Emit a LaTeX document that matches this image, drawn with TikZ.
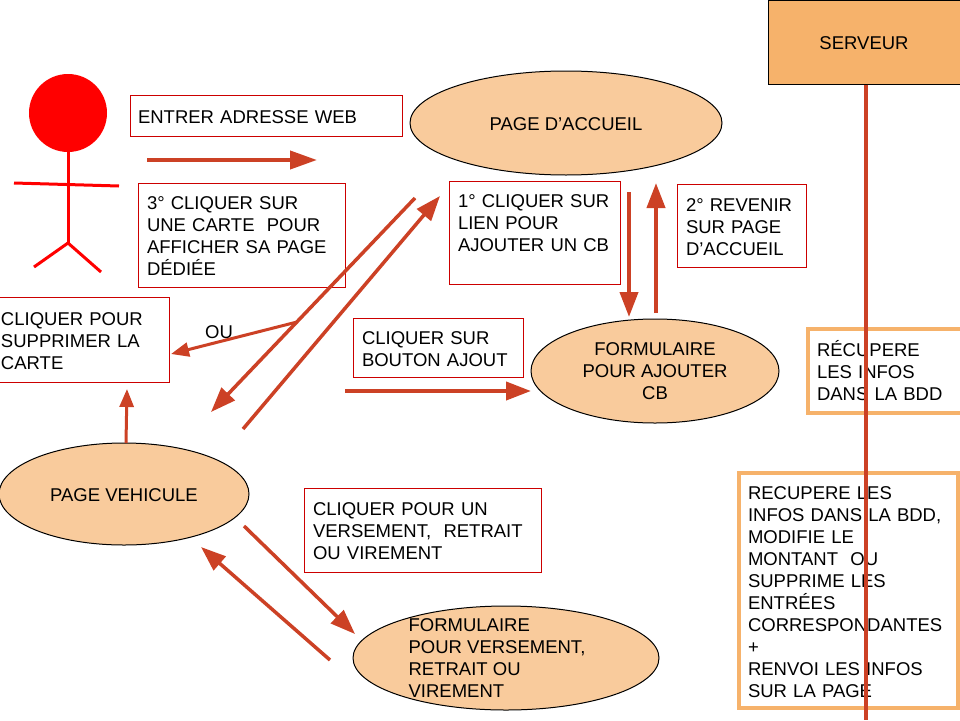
\documentclass[tikz,border=0pt]{standalone}
\usepackage{fontspec}
\setmainfont{Liberation Sans}
\usepackage{xcolor}
\usetikzlibrary{arrows.meta,shapes.geometric}
\definecolor{flechecol}{HTML}{CC4125}
\definecolor{pechecol}{HTML}{F9CB9C}
\definecolor{orangecol}{HTML}{F6B26B}
\definecolor{boxcol}{HTML}{CC0000}

\begin{document}
\begin{tikzpicture}[
  x=1pt, y=-1pt,
  txt/.style={font=\fontsize{18.5}{22}\selectfont, align=left, execute at begin node={\rule{0pt}{15.2pt}}},
  redbox/.style={txt, draw=boxcol, line width=1pt, fill=white, inner xsep=9pt, inner ysep=0pt},
  infobox/.style={txt, draw=orangecol, line width=4pt, fill=white, inner xsep=9pt, inner ysep=0pt},
  pagenode/.style={txt, ellipse, draw=black, line width=1pt, fill=pechecol, inner sep=0pt, align=center},
  fleche/.style={draw=flechecol, line width=3.5pt, -{Triangle[length=25pt,width=18pt]}},
  petitefleche/.style={draw=flechecol, line width=3pt, -{Triangle[length=18pt,width=14pt]}},
  servline/.style={draw=flechecol, line width=4pt},
  body/.style={draw=red, line width=3pt}
]
\useasboundingbox (0,0) rectangle (960,720);

\node[txt, draw=black, line width=1pt, fill=orangecol, minimum width=192pt, minimum height=84pt, align=center] (serveur) at (864,42) {SERVEUR};

\node[pagenode, minimum width=312pt, minimum height=104pt] (accueil) at (566,123) {PAGE D’ACCUEIL};
\node[pagenode, minimum width=248pt, minimum height=104pt] (formcb) at (655,371) {FORMULAIRE\\POUR AJOUTER\\CB};
\node[pagenode, minimum width=250pt, minimum height=102pt] (vehicule) at (124,494) {PAGE VEHICULE};
\node[pagenode, minimum width=306pt, minimum height=104pt,
  label={[txt, xshift=-9pt]center:FORMULAIRE\\POUR VERSEMENT,\\RETRAIT OU\\VIREMENT}] (formvers) at (506,658) {};

\node[redbox, inner xsep=8pt, text width=256pt, minimum height=41pt] (adresse) at (266,115.5) {ENTRER ADRESSE WEB};
\node[redbox, text width=189pt, minimum height=104pt] (carte) at (241.5,235) {3° CLIQUER SUR\\UNE CARTE\ \ POUR\\AFFICHER SA PAGE\\DÉDIÉE};
\node[redbox, inner xsep=3pt, text width=165pt, minimum height=85pt] (supprimer) at (83.5,339.5) {CLIQUER POUR\\SUPPRIMER LA\\CARTE};
\node[redbox, text width=152pt, minimum height=59pt] (bouton) at (438,347.5) {CLIQUER SUR\\BOUTON AJOUT};
\node[redbox, text width=153pt, minimum height=103pt] (lien) at (534.5,232.5) {1° CLIQUER SUR\\LIEN POUR\\AJOUTER UN CB\\[-8pt]\strut};
\node[redbox, text width=111pt, minimum height=83pt] (revenir) at (741.5,225.5) {2° REVENIR\\SUR PAGE\\D’ACCUEIL};
\node[redbox, text width=219pt, minimum height=84pt] (versement) at (422.5,530) {CLIQUER POUR UN\\VERSEMENT,\ \ RETRAIT\\OU VIREMENT};

\node[infobox, text width=144pt, minimum height=84pt] (recup) at (889,371) {RÉCUPERE\\LES INFOS\\DANS LA BDD};
\node[infobox, text width=201pt, minimum height=235pt] (modifie) at (848.5,590.5) {RECUPERE LES\\INFOS DANS LA BDD,\\MODIFIE LE\\MONTANT\ \ OU\\SUPPRIME LES\\ENTRÉES\\CORRESPONDANTES\\+\\RENVOI LES INFOS\\SUR LA PAGE};

\node[txt] (ou) at (219,331) {OU};

\node[circle, fill=red, minimum size=78pt, inner sep=0pt] (tete) at (68,113) {};
\coordinate (bassin) at (68,243);
\coordinate (mainG) at (14,183);
\coordinate (mainD) at (119,186);
\coordinate (piedG) at (34,267);
\coordinate (piedD) at (101,272);
\draw[body] (tete.south) -- (bassin);
\draw[body] (mainG) -- (mainD);
\draw[body] (bassin) -- (piedG);
\draw[body] (bassin) -- (piedD);

\coordinate (finserv) at (866,720);
\coordinate (a1) at (147,160);
\coordinate (a2) at (317,160);
\coordinate (b1) at (415,198);
\coordinate (b2) at (211,412);
\coordinate (c1) at (243,429);
\coordinate (c2) at (440,196);
\coordinate (d1) at (297,322);
\coordinate (d2) at (171,354);
\coordinate (e1) at (345,391);
\coordinate (e2) at (531,391);
\coordinate (f1) at (244,526);
\coordinate (f2) at (355,634);
\coordinate (g1) at (330,660);
\coordinate (g2) at (201,547);
\coordinate (h1) at (629,192);
\coordinate (h2) at (629,317);
\coordinate (i1) at (656,313);
\coordinate (i2) at (656,183);
\coordinate (j1) at (126,443);
\coordinate (j2) at (127,389);

\draw[servline] (serveur.south -| finserv) -- (finserv);
\draw[fleche, line width=4pt, -{Triangle[length=27pt,width=18pt]}] (a1) -- (a2);
\draw[fleche] (b1) -- (b2);
\draw[fleche] (c1) -- (c2);
\draw[petitefleche] (d1) -- (d2);
\draw[petitefleche] (j1) -- (j2);
\draw[fleche, line width=4pt] (e1) -- (e2);
\draw[fleche, line width=4pt] (h1) -- (h2);
\draw[fleche, line width=4pt] (i1) -- (i2);
\draw[fleche] (f1) -- (f2);
\draw[fleche] (g1) -- (g2);
\end{tikzpicture}
\end{document}
